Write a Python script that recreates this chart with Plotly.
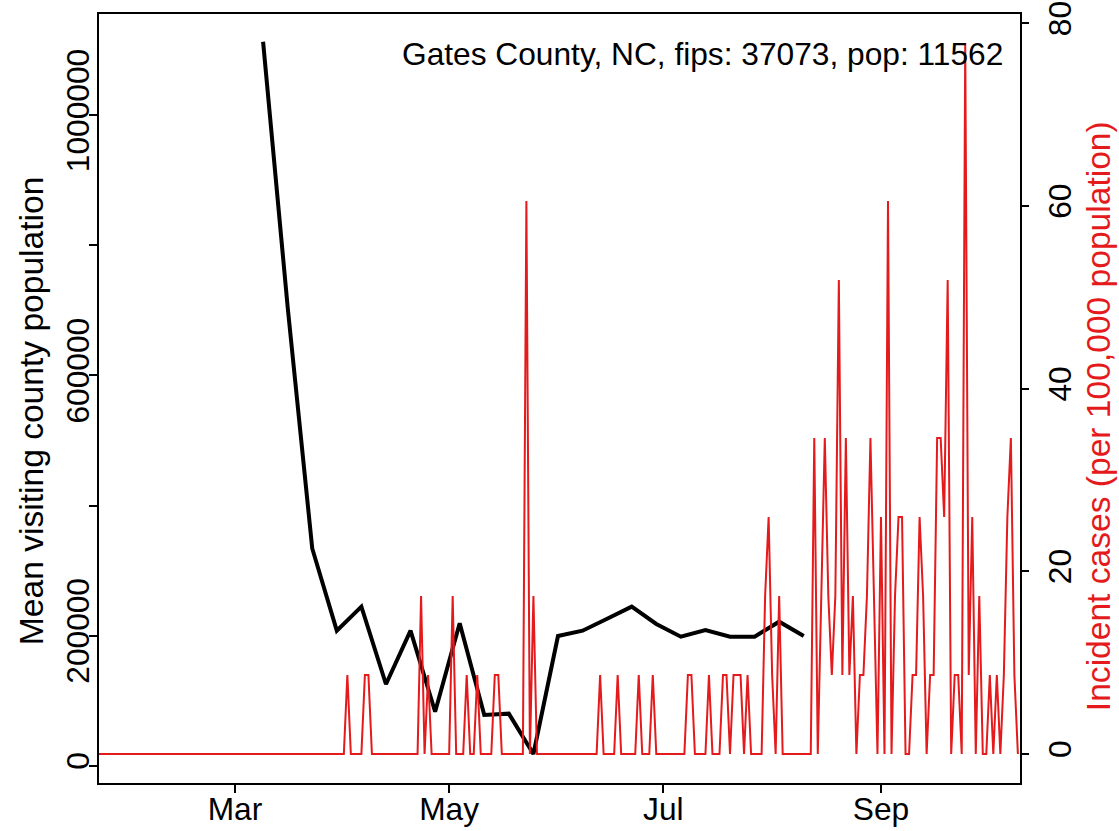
import pandas as pd
import plotly.graph_objects as go

# ---------------- data ----------------
# black line: weekly mean visiting county population
black_dates = ["2020-03-09", "2020-03-16", "2020-03-23", "2020-03-30", "2020-04-06",
               "2020-04-13", "2020-04-20", "2020-04-27", "2020-05-04", "2020-05-11",
               "2020-05-18", "2020-05-25", "2020-06-01", "2020-06-08", "2020-06-15",
               "2020-06-22", "2020-06-29", "2020-07-06", "2020-07-13", "2020-07-20",
               "2020-07-27", "2020-08-03", "2020-08-10"]
black_values = [1113000, 705000, 334000, 207600, 244500,
                125200, 207600, 83000, 219000, 78000,
                80000, 18000, 199400, 207600, 226000,
                244500, 217900, 198400, 208600, 198400,
                198400, 221400, 199400]

# red line: daily incident cases per 100,000 population (starts 2020-01-22)
red_start = "2020-01-22"
red_jan = [0] * 10
red_feb = [0] * 29
red_mar = [0] * 31
red_apr = [0, 8.65, 0, 0, 0, 0, 8.65, 8.65, 0, 0,
           0, 0, 0, 0, 0, 0, 0, 0, 0, 0,
           0, 0, 17.3, 0, 8.65, 0, 0, 0, 0, 0]
red_may = [0, 17.3, 0, 0, 0, 8.65, 0, 0, 8.65, 0,
           0, 0, 0, 8.65, 8.65, 0, 0, 0, 0, 0,
           0, 0, 60.55, 0, 17.3, 0, 0, 0, 0, 0, 0]
red_jun = [0, 0, 0, 0, 0, 0, 0, 0, 0, 0,
           0, 0, 8.65, 0, 0, 0, 0, 8.65, 0, 0,
           0, 0, 0, 8.65, 0, 0, 0, 8.65, 0, 0]
red_jul = [0, 0, 0, 0, 0, 0, 0, 8.65, 8.65, 0,
           0, 0, 0, 8.65, 0, 0, 0, 8.65, 8.65, 0,
           8.65, 8.65, 8.65, 0, 8.65, 0, 0, 0, 0, 17.3, 25.95]
red_aug = [8.65, 0, 17.3, 0, 0, 0, 0, 0, 0, 0,
           0, 0, 34.6, 0, 17.3, 34.6, 17.3, 8.65, 17.3, 51.9,
           8.65, 34.6, 8.65, 17.3, 0, 8.65, 8.65, 17.3, 34.6, 17.3, 0]
red_sep = [25.95, 0, 60.55, 0, 17.3, 25.95, 25.95, 0, 0, 8.65,
           8.65, 25.95, 17.3, 0, 8.65, 8.65, 34.6, 34.6, 25.95, 51.9,
           0, 8.65, 8.65, 0, 77.84, 8.65, 25.95, 0, 17.3, 0]
red_oct = [0, 8.65, 0, 8.65, 0, 8.65, 25.95, 34.6, 8.65, 0]

red_values = red_jan + red_feb + red_mar + red_apr + red_may + red_jun + red_jul + red_aug + red_sep + red_oct
red_dates = pd.date_range(red_start, periods=len(red_values), freq="D")

x_tick_vals = ["2020-03-01", "2020-05-01", "2020-07-01", "2020-09-01"]
x_tick_text = ["Mar", "May", "Jul", "Sep"]
y_tick_vals = [0, 200000, 400000, 600000, 800000, 1000000]
y_tick_text = ["0", "200000", "", "600000", "", "1000000"]
y2_tick_vals = [0, 20, 40, 60, 80]
y2_tick_text = ["0", "20", "40", "60", "80"]

label_text = "Gates County, NC, fips: 37073, pop: 11562"
left_title = "Mean visiting county population"
right_title = "Incident cases (per 100,000 population)"

# ---------------- figure ----------------
FONT = "Liberation Sans, Arial, sans-serif"
RED = "#E41A1C"
FS = 31.7
FS_TITLE = 33.6

# plot-area geometry (pixels) used to place the free-floating titles
L, R, T, B = 99, 1020, 14, 782.7


def px_x(px):
    return (px - L) / (R - L)


def px_y(py):
    return (B - py) / (B - T)


fig = go.Figure()
fig.add_trace(go.Scatter(x=black_dates, y=black_values, mode="lines",
                         line=dict(color="black", width=4), yaxis="y",
                         name="Mean visiting county population"))
fig.add_trace(go.Scatter(x=red_dates, y=red_values, mode="lines",
                         line=dict(color=RED, width=2), yaxis="y2",
                         name="Incident cases"))

axis_common = dict(showgrid=False, zeroline=False, ticks="outside", ticklen=8,
                   tickwidth=1.5, tickcolor="black", automargin=False,
                   tickfont=dict(family=FONT, size=FS, color="black"))

fig.update_layout(
    width=1119, height=831,
    margin=dict(l=99, r=99, t=14, b=48, autoexpand=False),
    paper_bgcolor="white", plot_bgcolor="white",
    showlegend=False,
    font=dict(family=FONT, color="black"),
    xaxis=dict(type="date", range=["2020-01-22 06:14", "2020-10-10 14:24"],
               tickmode="array", tickvals=x_tick_vals, ticktext=x_tick_text,
               showline=True, linecolor="black", linewidth=1.5, mirror=True,
               ticklabelstandoff=-11,
               **axis_common),
    yaxis=dict(range=[-26600, 1155750], tickmode="array",
               tickvals=y_tick_vals, ticktext=y_tick_text, tickangle=-90,
               showline=True, linecolor="black", linewidth=1.5, mirror=True,
               ticklabelstandoff=-12,
               **axis_common),
    yaxis2=dict(overlaying="y", side="right", range=[-3.175, 81.02],
                tickmode="array", tickvals=y2_tick_vals, ticktext=y2_tick_text,
                tickangle=-90, showline=False, ticklabelstandoff=4,
                **axis_common),
    annotations=[
        dict(text=label_text, xref="paper", yref="paper",
             x=px_x(1005), y=px_y(54),
             xanchor="right", yanchor="middle", showarrow=False,
             font=dict(family=FONT, size=FS, color="black")),
        dict(text=left_title, xref="paper", yref="paper",
             x=px_x(31), y=px_y(411), textangle=-90,
             xanchor="center", yanchor="middle", showarrow=False,
             font=dict(family=FONT, size=FS_TITLE, color="black")),
        dict(text=right_title, xref="paper", yref="paper",
             x=px_x(1098), y=px_y(416), textangle=-90,
             xanchor="center", yanchor="middle", showarrow=False,
             font=dict(family=FONT, size=FS_TITLE, color=RED)),
    ],
)

fig.write_html("out.html", config={"displayModeBar": False},
               post_script="document.body.style.margin='0';document.body.style.overflow='hidden';")
